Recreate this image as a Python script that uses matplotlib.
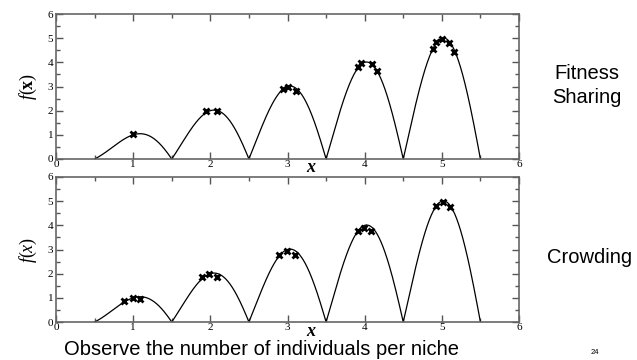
import numpy as np
import matplotlib
matplotlib.use('Agg')
import matplotlib.pyplot as plt
from matplotlib.ticker import MultipleLocator

plt.rcParams['mathtext.fontset'] = 'custom'
plt.rcParams['mathtext.rm'] = 'Liberation Serif'
plt.rcParams['mathtext.it'] = 'Liberation Serif:italic'
plt.rcParams['mathtext.bf'] = 'Liberation Serif:bold'

# niche positions / curve: f(x) = x*|cos(pi x)| on [0.5, 5.5]
x_lo, x_hi = 0.5, 5.5

def f(x):
    return x*np.abs(np.cos(np.pi*x))

# individuals
share_x = [1.00, 1.95, 2.09, 2.94, 3.01, 3.11, 3.91, 3.95, 4.09, 4.16, 4.88, 4.92, 5.00, 5.09, 5.16]
share_y = [1.02, 2.00, 2.00, 2.88, 2.96, 2.82, 3.81, 3.97, 3.93, 3.64, 4.57, 4.85, 4.97, 4.78, 4.43]
crowd_x = [0.88, 1.00, 1.09, 1.89, 1.98, 2.08, 2.89, 2.99, 3.10, 3.91, 3.99, 4.08, 4.93, 5.01, 5.11]
crowd_y = [0.88, 1.00, 0.96, 1.85, 1.97, 1.85, 2.77, 2.92, 2.77, 3.78, 3.89, 3.78, 4.80, 4.95, 4.74]

labels = [['Fitness', 'Sharing'], ['Crowding']]
caption = 'Observe the number of individuals per niche'
page_no = '24'

serif = 'Liberation Serif'
sans = 'Liberation Sans'

fig = plt.figure(figsize=(6.37, 3.6), dpi=100)
W, H = 637.0, 360.0
# axes boxes in pixels: left, top, right, bottom
boxes = [(56, 14, 519, 159), (56, 177, 519, 322)]
label_pos = [[(587, 79), (587, 103)], [(590, 263)]]
xx = np.linspace(x_lo, x_hi, 2001)

for (l, t, r, b), px, py, lab, lp in zip(boxes, [share_x, crowd_x], [share_y, crowd_y], labels, label_pos):
    ax = fig.add_axes([l/W, 1-b/H, (r-l)/W, (b-t)/H])
    ax.plot(xx, f(xx), color='black', lw=0.9)
    ax.plot(px, py, 'x', color='black', ms=5, mew=2.0)
    ax.set_xlim(0, 6)
    ax.set_ylim(0, 6)
    ax.xaxis.set_major_locator(MultipleLocator(1))
    ax.xaxis.set_minor_locator(MultipleLocator(0.5))
    ax.yaxis.set_major_locator(MultipleLocator(1))
    ax.yaxis.set_minor_locator(MultipleLocator(0.5))
    ax.tick_params(which='both', direction='in', top=True, right=True, color='#555555')
    ax.tick_params(which='major', length=5, width=1, labelsize=8, pad=2)
    ax.tick_params(which='minor', length=3, width=1)
    ax.tick_params(axis='x', labeltop=False, pad=1)
    for tl in ax.get_xticklabels() + ax.get_yticklabels():
        tl.set_family(serif)
    for s in ax.spines.values():
        s.set_color('#666666')
        s.set_linewidth(1.2)
    ax.set_ylabel('$f$($\\mathbf{x}$)' if t < 100 else '$f$($x$)', family=serif,
                  fontsize=13, labelpad=6)
    ax.text(311/W, 1-(b+9)/H, 'x', family=serif, style='italic', weight='bold', fontsize=13,
            ha='center', va='center', transform=fig.transFigure)
    for txt, (tx, ty) in zip(lab, lp):
        fig.text(tx/W, 1-ty/H, txt, family=sans, fontsize=14.5, ha='center', va='baseline')

fig.text(262/W, 1-355/H, caption, family=sans, fontsize=14.5, ha='center', va='baseline')
fig.text(595/W, 1-354/H, page_no, family=sans, fontsize=5.5, ha='center', va='baseline')

fig.savefig('out.png', dpi=100)
